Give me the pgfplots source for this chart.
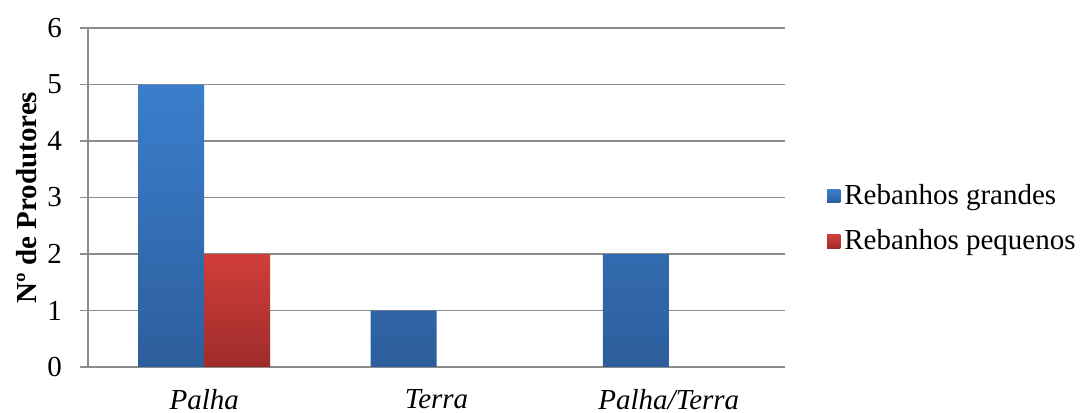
\documentclass[border=0pt]{standalone}
\usepackage{pgfplots}
\pgfplotsset{compat=1.18}
\usepackage{fontspec}
\setmainfont{Liberation Serif}

\definecolor{bluetop}{HTML}{3A7ECD}
\definecolor{bluebot}{HTML}{2D5E9C}
\definecolor{redtop}{HTML}{D13E3A}
\definecolor{redbot}{HTML}{9E2C2B}
\definecolor{gridgray}{HTML}{8C8C8C}

\newcommand{\chartfont}{\fontsize{14.5bp}{17.5bp}\selectfont}

\begin{document}
\begin{tikzpicture}
\chartfont
\path[use as bounding box] (-44bp,-23bp) rectangle (497bp,183.5bp);
\begin{axis}[
    at={(0,0)}, anchor=south west,
    scale only axis,
    width=348.5bp, height=169.5bp,
    ybar=0pt,
    bar width=33bp,
    xmin=-0.5, xmax=2.5,
    ymin=0, ymax=6,
    ytick={0,1,2,3,4,5,6},
    xtick={0,1,2},
    xticklabels={Palha, Terra, Palha/Terra},
    x tick label style={font=\chartfont\itshape, yshift=-2bp},
    y tick label style={font=\chartfont, xshift=-4bp},
    /pgf/number format/assume math mode=true,
    ylabel={\textbf{Nº de Produtores}},
    ylabel style={font=\chartfont},
    every axis y label/.style={at={(-30.5bp,84.75bp)}, rotate=90, anchor=center},
    axis x line*=bottom,
    axis y line*=left,
    x axis line style={draw=none},
    y axis line style={draw=gridgray, line width=0.8bp},
    major x tick style={draw=none},
    major y tick style={draw=gridgray, line width=0.8bp},
    tick align=outside,
    major tick length=4bp,
    ymajorgrids,
    grid style={draw=gridgray, line width=0.8bp},
    legend style={at={(1.06,0.437)}, anchor=west, draw=none, fill=none,
        font=\chartfont,
        row sep=6.5bp, inner sep=0pt},
    legend cell align=left,
    legend image code/.code={
        \path[#1] (0bp,-3.3bp) rectangle (6.6bp,3.3bp);
    },
]
\addplot[draw=none, top color=bluetop, bottom color=bluebot] coordinates {(0,5) (1,1) (2,2)};
\addplot[draw=none, top color=redtop, bottom color=redbot] coordinates {(0,2) (1,0) (2,0)};
\legend{Rebanhos grandes, Rebanhos pequenos}
\end{axis}
\end{tikzpicture}
\end{document}
